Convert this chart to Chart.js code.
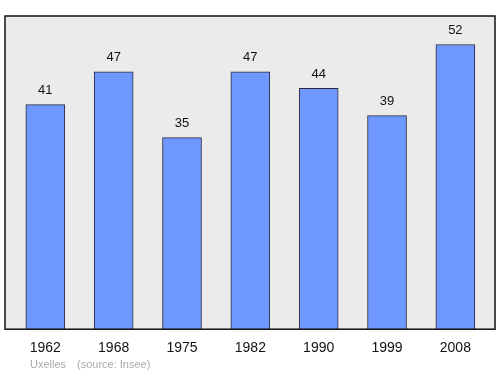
<!DOCTYPE html>
<html>
<head>
<meta charset="utf-8">
<script src="https://cdn.jsdelivr.net/npm/chart.js@4/dist/chart.umd.min.js"></script>
<style>
  html, body { margin: 0; padding: 0; background: #fff; }
  #wrap { width: 500px; height: 374px; position: relative; }
</style>
</head>
<body>
<div id="wrap"><canvas id="popChart" width="500" height="374"></canvas></div>
<script>
const years = ["1962", "1968", "1975", "1982", "1990", "1999", "2008"];
const population = [41, 47, 35, 47, 44, 39, 52];
const townName = "Uxelles";
const sourceNote = "(source: Insee)";

const FONT = "'Liberation Sans', Arial, sans-serif";

// grey panel with black frame behind the bars
const panelPlugin = {
  id: "panel",
  beforeDraw(chart) {
    const { ctx, chartArea: a } = chart;
    ctx.save();
    ctx.fillStyle = "#ebebeb";
    ctx.fillRect(a.left, a.top, a.right - a.left, a.bottom - a.top);
    ctx.restore();
  },
  afterDatasetsDraw(chart) {
    const { ctx, chartArea: a } = chart;
    ctx.save();
    ctx.strokeStyle = "#111";
    ctx.lineWidth = 1.5;
    ctx.strokeRect(a.left, a.top, a.right - a.left, a.bottom - a.top);
    ctx.restore();
  }
};

// numbers above bars + footer text
const labelPlugin = {
  id: "labels",
  afterDraw(chart) {
    const { ctx } = chart;
    const meta = chart.getDatasetMeta(0);
    ctx.save();
    ctx.fillStyle = "#111";
    ctx.font = "13px " + FONT;
    ctx.textAlign = "center";
    ctx.textBaseline = "middle";
    meta.data.forEach((bar, i) => {
      ctx.fillText(String(population[i]), bar.x, bar.y - 14);
    });
    ctx.fillStyle = "#aaa";
    ctx.font = "11px " + FONT;
    ctx.textAlign = "left";
    ctx.fillText(townName, 30, 365);
    ctx.fillText(sourceNote, 77, 365);
    ctx.restore();
  }
};

new Chart(document.getElementById("popChart"), {
  type: "bar",
  data: {
    datasets: [{
      data: population.map((v, i) => ({ x: i, y: v })),
      backgroundColor: "#6f98ff",
      borderColor: "#2a2a3a",
      borderWidth: 1,
      barThickness: 39
    }]
  },
  plugins: [panelPlugin, labelPlugin],
  options: {
    responsive: false,
    animation: false,
    layout: { padding: { left: 5, right: 5, top: 16, bottom: 14 } },
    plugins: { legend: { display: false }, tooltip: { enabled: false } },
    scales: {
      x: {
        type: "linear",
        offset: false,
        min: -0.59,
        max: 6.58,
        grid: { display: false },
        border: { display: false },
        afterBuildTicks(axis) {
          axis.ticks = years.map((y, i) => ({ value: i }));
        },
        ticks: {
          autoSkip: false,
          maxRotation: 0,
          padding: 3,
          color: "#111",
          font: { family: FONT, size: 14 },
          callback: (v) => years[v]
        }
      },
      y: {
        display: false,
        min: 0,
        max: 57.2
      }
    }
  }
});
</script>
</body>
</html>
